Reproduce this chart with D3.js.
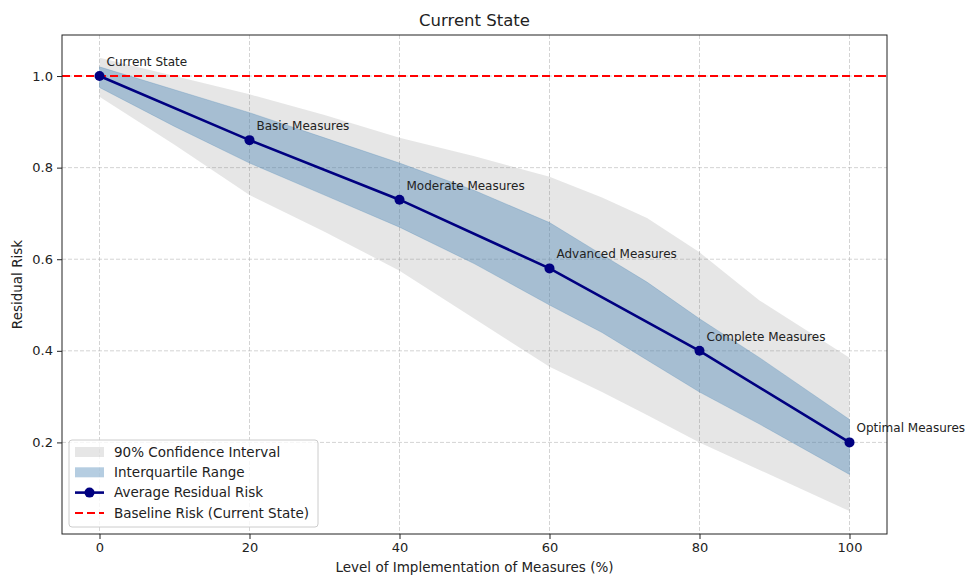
<!DOCTYPE html>
<html>
<head>
<meta charset="utf-8">
<script src="https://cdn.jsdelivr.net/npm/d3@7"></script>
<style>
  body { margin: 0; background: #fff; }
  svg text { font-family: "DejaVu Sans", sans-serif; fill: #222; }
</style>
</head>
<body>
<div id="chart"></div>
<script>

// implementation levels (%) and the average residual risk at each
const levels = [0, 20, 40, 60, 80, 100];
const avgRisk = [1.0, 0.86, 0.73, 0.58, 0.40, 0.20];
const stageLabels = ["Current State", "Basic Measures", "Moderate Measures",
    "Advanced Measures", "Complete Measures", "Optimal Measures"];

// bands, read at these x positions
const bandX = [0, 10, 20, 30, 40, 50, 60, 67, 73, 80, 88, 100];
const ciUpper = [1.04, 1.00, 0.96, 0.915, 0.865, 0.825, 0.78, 0.735, 0.69, 0.615, 0.51, 0.385];
const ciLower = [0.955, 0.85, 0.74, 0.66, 0.575, 0.47, 0.365, 0.31, 0.26, 0.20, 0.14, 0.05];
const iqrUpper = [1.02, 0.97, 0.92, 0.865, 0.81, 0.75, 0.68, 0.61, 0.55, 0.47, 0.385, 0.25];
const iqrLower = [0.975, 0.89, 0.81, 0.74, 0.67, 0.59, 0.50, 0.44, 0.38, 0.31, 0.24, 0.13];

const baseline = 1.0;
const xTicks = [0, 20, 40, 60, 80, 100];
const yTicks = [0.2, 0.4, 0.6, 0.8, 1.0];

const legendItems = ["90% Confidence Interval", "Interquartile Range",
    "Average Residual Risk", "Baseline Risk (Current State)"];

const W = 968, H = 577;
const margin = {top: 35, right: 81, bottom: 43, left: 62};
const width = W - margin.left - margin.right;
const height = H - margin.top - margin.bottom;

const svg = d3.select("#chart").append("svg")
    .attr("width", W)
    .attr("height", H);

const g = svg.append("g")
    .attr("transform", `translate(${margin.left},${margin.top})`);

const x = d3.scaleLinear().domain([-5, 105]).range([0, width]);
const y = d3.scaleLinear().domain([0.0, 1.0896]).range([height, 0]);

// grid
g.append("g").selectAll("line.vgrid")
    .data(xTicks).enter().append("line")
    .attr("x1", d => x(d)).attr("x2", d => x(d))
    .attr("y1", 0).attr("y2", height)
    .attr("stroke", "#b0b0b0").attr("stroke-opacity", 0.55)
    .attr("stroke-dasharray", "4,2");
g.append("g").selectAll("line.hgrid")
    .data(yTicks).enter().append("line")
    .attr("x1", 0).attr("x2", width)
    .attr("y1", d => y(d)).attr("y2", d => y(d))
    .attr("stroke", "#b0b0b0").attr("stroke-opacity", 0.55)
    .attr("stroke-dasharray", "4,2");

// bands
const ciData = bandX.map((d, i) => ({x: d, lo: ciLower[i], hi: ciUpper[i]}));
const iqrData = bandX.map((d, i) => ({x: d, lo: iqrLower[i], hi: iqrUpper[i]}));
const area = d3.area().x(d => x(d.x)).y0(d => y(d.lo)).y1(d => y(d.hi));

g.append("path").datum(ciData)
    .attr("d", area)
    .attr("fill", "gray").attr("fill-opacity", 0.2);
g.append("path").datum(iqrData)
    .attr("d", area)
    .attr("fill", "steelblue").attr("fill-opacity", 0.4)
    .attr("stroke", "steelblue").attr("stroke-opacity", 0.25);

// baseline
g.append("line")
    .attr("x1", 0).attr("x2", width)
    .attr("y1", y(baseline)).attr("y2", y(baseline))
    .attr("stroke", "red").attr("stroke-width", 2)
    .attr("stroke-dasharray", "8,4");

// mean line + markers
const pts = levels.map((d, i) => ({x: d, y: avgRisk[i], label: stageLabels[i]}));
g.append("path").datum(pts)
    .attr("d", d3.line().x(d => x(d.x)).y(d => y(d.y)))
    .attr("fill", "none").attr("stroke", "navy").attr("stroke-width", 2.6);
g.selectAll("circle.pt").data(pts).enter().append("circle")
    .attr("cx", d => x(d.x)).attr("cy", d => y(d.y))
    .attr("r", 5).attr("fill", "navy");

g.selectAll("text.ann").data(pts).enter().append("text")
    .attr("x", d => x(d.x) + 7).attr("y", d => y(d.y) - 10)
    .style("font-size", "12px")
    .text(d => d.label);

// axes
const xAxis = g.append("g")
    .attr("transform", `translate(0,${height})`)
    .call(d3.axisBottom(x).tickValues(xTicks).tickSize(5).tickPadding(4).tickFormat(d3.format("d")));
const yAxis = g.append("g")
    .call(d3.axisLeft(y).tickValues(yTicks).tickSize(5).tickPadding(4).tickFormat(d3.format(".1f")));
[xAxis, yAxis].forEach(a => {
    a.select(".domain").remove();
    a.selectAll("line").attr("stroke", "#222");
    a.selectAll("text").style("font-size", "13px").attr("fill", "#222");
});

// frame
g.append("rect")
    .attr("width", width).attr("height", height)
    .attr("fill", "none").attr("stroke", "#222").attr("stroke-width", 1);

// titles
svg.append("text")
    .attr("x", margin.left + width / 2).attr("y", 26)
    .attr("text-anchor", "middle").style("font-size", "16.5px")
    .text("Current State");
svg.append("text")
    .attr("x", margin.left + width / 2).attr("y", 572)
    .attr("text-anchor", "middle").style("font-size", "13.5px")
    .text("Level of Implementation of Measures (%)");
svg.append("text")
    .attr("transform", `translate(22,${margin.top + height / 2}) rotate(-90)`)
    .attr("text-anchor", "middle").style("font-size", "13.5px")
    .text("Residual Risk");

// legend
const lg = g.append("g").attr("transform", "translate(7,405)");
lg.append("rect")
    .attr("width", 249).attr("height", 87).attr("rx", 3)
    .attr("fill", "white").attr("fill-opacity", 0.8)
    .attr("stroke", "#cccccc");
const rowY = d => 12 + d * 20.3;
legendItems.forEach((name, i) => {
    const row = lg.append("g").attr("transform", `translate(6,${rowY(i)})`);
    if (i === 0) {
        row.append("rect").attr("y", -5).attr("width", 29).attr("height", 10)
            .attr("fill", "gray").attr("fill-opacity", 0.2);
    } else if (i === 1) {
        row.append("rect").attr("y", -5).attr("width", 29).attr("height", 10)
            .attr("fill", "steelblue").attr("fill-opacity", 0.4);
    } else if (i === 2) {
        row.append("line").attr("x1", 0).attr("x2", 29)
            .attr("stroke", "navy").attr("stroke-width", 2.6);
        row.append("circle").attr("cx", 14.5).attr("r", 5).attr("fill", "navy");
    } else {
        row.append("line").attr("x1", 0).attr("x2", 29)
            .attr("stroke", "red").attr("stroke-width", 2)
            .attr("stroke-dasharray", "8,4");
    }
    row.append("text").attr("x", 39).attr("dy", "0.36em")
        .style("font-size", "13.5px").text(name);
});

</script>
</body>
</html>
